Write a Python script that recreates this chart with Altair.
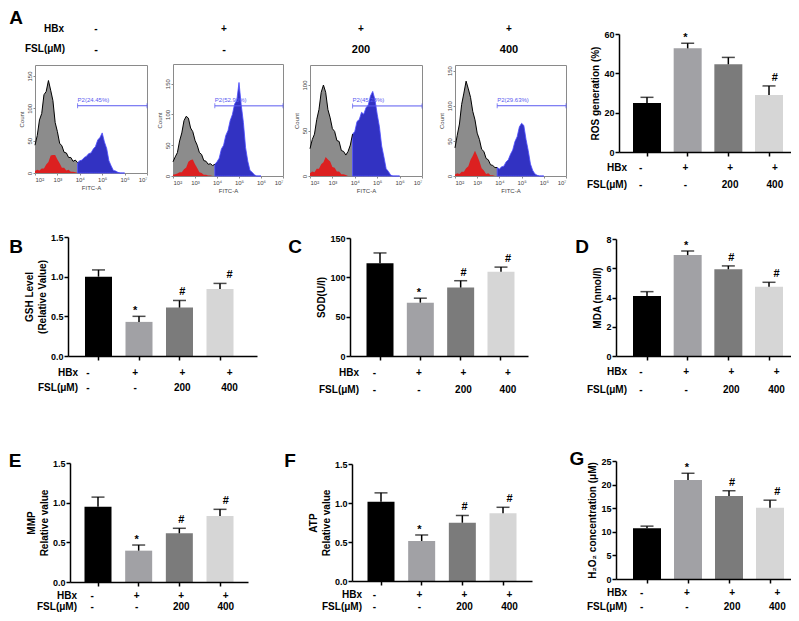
import altair as alt
import pandas as pd

# ---------------- data ----------------
groups = ["Control", "HBx", "HBx+FSL200", "HBx+FSL400"]
hbx_row = ["-", "+", "+", "+"]
fsl_row = ["-", "-", "200", "400"]
bar_colors = ["#000000", "#a1a1a5", "#7b7b7b", "#d6d6d6"]

ros_mean = [24.9, 52.7, 44.6, 29.0]
ros_err = [2.9, 2.6, 3.5, 4.6]
ros_sig = ["", "*", "", "#"]

gsh_mean = [1.00, 0.43, 0.61, 0.845]
gsh_err = [0.085, 0.07, 0.09, 0.07]
sod_mean = [118, 67.8, 87, 107]
sod_err = [13, 5.7, 8.7, 6]
mda_mean = [4.1, 6.9, 5.93, 4.74]
mda_err = [0.3, 0.28, 0.23, 0.3]
mmp_mean = [0.95, 0.395, 0.614, 0.832]
mmp_err = [0.12, 0.071, 0.063, 0.084]
atp_mean = [1.017, 0.513, 0.747, 0.868]
atp_err = [0.113, 0.077, 0.093, 0.077]
h2o2_mean = [10.74, 20.97, 17.6, 15.1]
h2o2_err = [0.46, 1.43, 1.1, 1.6]
sig_marks = ["", "*", "#", "#"]

# flow cytometry histograms (log10 FITC-A bins, counts)
fitc_log = [2.0, 2.1, 2.2, 2.3, 2.4, 2.5, 2.6, 2.7, 2.8, 2.9,
            3.0, 3.1, 3.2, 3.3, 3.4, 3.5, 3.6, 3.7, 3.8, 3.9,
            4.0, 4.1, 4.2, 4.3, 4.4, 4.5, 4.6, 4.7, 4.8, 4.9,
            5.0, 5.1, 5.2, 5.3, 5.4, 5.5, 5.6, 5.7, 5.8, 5.9, 6.0]
hist1_total = [43, 58, 82, 92, 121, 126, 143, 128, 112, 78,
               64, 46, 42, 32, 31, 24, 24, 18, 20, 16,
               19, 20, 24, 26, 30, 31, 37, 41, 51, 55,
               62, 48, 38, 19, 11, 4, 3, 1, 0, 0, 0]
hist1_red = [3, 5, 4, 7, 7, 13, 17, 27, 28, 28,
             21, 15, 8, 8, 4, 5, 2, 2, 1, 0, 0]
hist2_total = [23, 31, 38, 57, 70, 90, 97, 94, 78, 72,
               58, 50, 38, 35, 25, 24, 19, 20, 17, 19,
               23, 29, 44, 50, 66, 74, 90, 100, 117, 123,
               152, 116, 87, 46, 24, 9, 6, 2, 0, 0, 0]
hist2_red = [2, 3, 4, 6, 6, 11, 14, 23, 26, 27,
             19, 13, 6, 5, 2, 2, 1, 1, 0, 0, 0]
hist3_total = [30, 40, 46, 62, 73, 92, 100, 92, 73, 64,
               52, 49, 39, 38, 28, 27, 23, 27, 34, 46,
               49, 60, 62, 70, 68, 75, 78, 88, 93, 84,
               68, 54, 33, 21, 8, 5, 1, 0, 0, 0, 0]
hist3_red = [3, 5, 4, 8, 8, 13, 15, 21, 18, 16,
             10, 9, 5, 5, 2, 2, 1, 0, 0, 0, 0]
hist4_total = [40, 58, 74, 102, 118, 135, 124, 112, 92, 80,
               61, 52, 38, 35, 25, 23, 16, 15, 12, 12,
               10, 13, 14, 20, 23, 31, 37, 49, 56, 70,
               75, 72, 52, 36, 17, 8, 3, 1, 0, 0, 0]
hist4_red = [2, 4, 3, 6, 6, 11, 14, 23, 29, 36,
             29, 21, 11, 8, 3, 4, 1, 1, 0, 0, 0]
hist_totals = [hist1_total, hist2_total, hist3_total, hist4_total]
hist_reds = [hist1_red, hist2_red, hist3_red, hist4_red]
hist_ymax = [167, 182, 122, 158]
gate_lo = [3.9, 3.9, 3.9, 3.9]
gate_hi = [7.0, 7.0, 7.0, 7.0]
gate_level = [104, 114, 77, 100]
gate_labels = ["P2(24.45%)", "P2(52.90%)", "P2(45.28%)", "P2(29.63%)"]
decade_ticks = [2, 3, 4, 5, 6, 7]
count_ticks = [0, 50, 100, 150]

# ---------------- layout helpers ----------------
W, H = 783, 605
M = 8
FONT = "Liberation Sans"
one = pd.DataFrame({"k": [0]})


def C(v):
    return v - M


def label(text, x, y, size=10, align="center", baseline="middle", weight="bold", color="black"):
    return alt.Chart(one).mark_text(text=text, font=FONT, fontSize=size, fontWeight=weight,
                                    align=align, baseline=baseline, color=color).encode(
        x=alt.value(C(x)), y=alt.value(C(y)))


def band(x0, x1, c1, step, bw, n=4):
    wd = x1 - x0
    pi = 1 - bw / step
    po = (wd / step - n + pi) / 2
    space = wd - step * (n - pi)
    al = (c1 - x0 - bw / 2) / space
    return alt.Scale(domain=groups, range=[C(x0), C(x1)], paddingInner=pi,
                     paddingOuter=max(po, 0), align=min(max(al, 0), 1))


def bar_panel(mean, err, sig, frame, ydom, yticks, yfmt, ytitle, rows_y, head_x):
    x0, x1, c1, step, bw, y0, yt = frame
    df = pd.DataFrame({"grp": groups, "val": mean,
                       "top": [m + e for m, e in zip(mean, err)],
                       "col": bar_colors, "sig": sig, "hbx": hbx_row, "fsl": fsl_row})
    xs = band(x0, x1, c1, step, bw)
    ys = alt.Scale(domain=ydom, range=[C(y0), C(yt)], nice=False)
    yaxis = alt.Axis(orient="left", offset=-C(x0), values=yticks, format=yfmt, title=ytitle,
                     grid=False, domainColor="black", domainWidth=1.5, tickColor="black",
                     tickWidth=1.5, tickSize=4, labelFont=FONT, labelFontSize=9,
                     labelFontWeight="bold", labelColor="black", labelPadding=1,
                     titleFont=FONT, titleFontSize=10, titleFontWeight="bold",
                     titleColor="black", titlePadding=3, titleLineHeight=13, zindex=1)
    xaxis = alt.Axis(orient="bottom", offset=C(y0) - H, labels=False, title="", grid=False,
                     domainColor="black", domainWidth=1.5, tickColor="black", tickWidth=1.5,
                     tickSize=4, zindex=1)
    out = []
    out.append(alt.Chart(df).mark_bar().encode(
        x=alt.X("grp:N", scale=xs, axis=xaxis),
        y=alt.Y("val:Q", scale=ys, axis=yaxis),
        color=alt.Color("col:N", scale=None)))
    out.append(alt.Chart(df).mark_rule(color="black", strokeWidth=1.5).encode(
        x=alt.X("grp:N", scale=xs, axis=None),
        y=alt.Y("val:Q", scale=ys, axis=None), y2=alt.Y2("top")))
    out.append(alt.Chart(df).mark_tick(color="black", thickness=1.5, size=13,
                                       orient="horizontal").encode(
        x=alt.X("grp:N", scale=xs, axis=None),
        y=alt.Y("top:Q", scale=ys, axis=None)))
    for mk, dy in (("*", -5), ("#", -8)):
        sub = df[df["sig"] == mk]
        if len(sub):
            out.append(alt.Chart(sub).mark_text(font=FONT, fontSize=11, fontWeight="bold",
                                                baseline="middle", dy=dy).encode(
                x=alt.X("grp:N", scale=xs, axis=None),
                y=alt.Y("top:Q", scale=ys, axis=None), text="sig:N"))
    for fld, ry in (("hbx", rows_y[0]), ("fsl", rows_y[1])):
        out.append(alt.Chart(df).mark_text(font=FONT, fontSize=10, fontWeight="bold",
                                           baseline="middle").encode(
            x=alt.X("grp:N", scale=xs, axis=None), y=alt.value(C(ry)), text=f"{fld}:N"))
    out.append(label("HBx", head_x, rows_y[0], align="right"))
    out.append(label("FSL(μM)", head_x, rows_y[1], align="right"))
    return out


def hist_panel(i, frame):
    x0, x1, yt, yb = frame
    xs = alt.Scale(domain=[2, 7], range=[C(x0), C(x1)], nice=False, zero=False)
    ys = alt.Scale(domain=[0, hist_ymax[i]], range=[C(yb), C(yt)], nice=False)
    df = pd.DataFrame({"x": fitc_log, "n": hist_totals[i]})
    left = df[df["x"] <= gate_lo[i] + 1e-9]
    right = df[df["x"] >= gate_lo[i] - 1e-9]
    red = pd.DataFrame({"x": fitc_log[:len(hist_reds[i])], "n": hist_reds[i]})
    fc = "#8a8a8a"
    common = dict(grid=False, domainColor=fc, domainWidth=1, tickColor=fc, tickSize=2,
                  labelFont=FONT, labelFontSize=6, labelColor="#444", labelPadding=1,
                  titleFont=FONT, titleFontSize=6, titleFontWeight="normal",
                  titleColor="#444", titlePadding=2)
    xaxis = alt.Axis(orient="bottom", offset=C(yb) - H, values=decade_ticks, title="FITC-A",
                     labelExpr="'10' + ['⁰','¹','²','³','⁴','⁵','⁶','⁷'][datum.value]",
                     **common)
    yaxis = alt.Axis(orient="left", offset=-C(x0), values=count_ticks, title="Count",
                     labelAngle=-90, labelAlign="center", labelBaseline="bottom", **common)
    frame_x = alt.Axis(orient="top", offset=-C(yt), labels=False, ticks=False, title="",
                       grid=False, domainColor=fc, domainWidth=1)
    frame_y = alt.Axis(orient="right", offset=C(x1) - W, labels=False, ticks=False, title="",
                       grid=False, domainColor=fc, domainWidth=1)
    out = []
    out.append(alt.Chart(left).mark_area(color="#8c8c8c").encode(
        x=alt.X("x:Q", scale=xs, axis=xaxis), y=alt.Y("n:Q", scale=ys, axis=yaxis)))
    out.append(alt.Chart(right).mark_area(color="#3232c2", stroke="#4b4bff",
                                          strokeWidth=0.8).encode(
        x=alt.X("x:Q", scale=xs, axis=None), y=alt.Y("n:Q", scale=ys, axis=None)))
    out.append(alt.Chart(red).mark_area(color="#e01a1a", opacity=0.95).encode(
        x=alt.X("x:Q", scale=xs, axis=None), y=alt.Y("n:Q", scale=ys, axis=None)))
    out.append(alt.Chart(left).mark_line(color="black", strokeWidth=1).encode(
        x=alt.X("x:Q", scale=xs, axis=frame_x), y=alt.Y("n:Q", scale=ys, axis=frame_y)))
    gate = pd.DataFrame({"lo": [gate_lo[i]], "hi": [gate_hi[i]], "lvl": [gate_level[i]],
                         "lab": [gate_labels[i]]})
    gc = "#5a5af0"
    out.append(alt.Chart(gate).mark_rule(color=gc, strokeWidth=1).encode(
        x=alt.X("lo:Q", scale=xs, axis=None), x2=alt.X2("hi"),
        y=alt.Y("lvl:Q", scale=ys, axis=None)))
    ends = pd.DataFrame({"x": [gate_lo[i], gate_hi[i]], "lvl": [gate_level[i]] * 2})
    out.append(alt.Chart(ends).mark_tick(color=gc, orient="vertical", size=5,
                                         thickness=1).encode(
        x=alt.X("x:Q", scale=xs, axis=None), y=alt.Y("lvl:Q", scale=ys, axis=None)))
    out.append(alt.Chart(gate).mark_text(color=gc, font=FONT, fontSize=6, align="left",
                                         baseline="bottom", dy=-3).encode(
        x=alt.X("lo:Q", scale=xs, axis=None), y=alt.Y("lvl:Q", scale=ys, axis=None),
        text="lab:N"))
    return out


layers = []

# ---- panel A : histograms ----
hist_frames = [(35, 147, 65, 173), (173, 283, 64, 176), (310, 422, 65, 176), (455, 566, 65, 176)]
hdr_x = [96, 224, 361, 509]
for i, fr in enumerate(hist_frames):
    layers += hist_panel(i, fr)
    layers.append(label(hbx_row[i], hdr_x[i], 29, size=10))
    layers.append(label(fsl_row[i], hdr_x[i], 50, size=11))
layers.append(label("HBx", 64, 29, align="right"))
layers.append(label("FSL(μM)", 65, 49, align="right"))
layers.append(label("A", 16, 24, size=19, baseline="alphabetic"))

# ---- panel A : ROS bar chart ----
layers += bar_panel(ros_mean, ros_err, ros_sig, (619, 798, 647, 40.67, 28, 152, 34),
                    [0, 60], [0, 20, 40, 60], "d", "ROS generation (%)", (168, 185), 627)

# ---- B, C, D ----
layers += bar_panel(gsh_mean, gsh_err, sig_marks, (68, 257, 98.5, 40.5, 27, 356, 237),
                    [0, 1.5], [0, 0.5, 1.0, 1.5], ".1f", ["GSH Level", "(Relative Value)"],
                    (373, 388), 78)
layers.append(label("B", 16, 253, size=19, baseline="alphabetic"))
layers += bar_panel(sod_mean, sod_err, sig_marks, (350, 528, 380, 40.33, 27, 356, 238),
                    [0, 150], [0, 50, 100, 150], "d", "SOD(U/l)", (373, 390), 359)
layers.append(label("C", 295, 253, size=19, baseline="alphabetic"))
layers += bar_panel(mda_mean, mda_err, sig_marks, (616, 797, 647, 40.67, 28, 356, 239),
                    [0, 8], [0, 2, 4, 6, 8], "d", "MDA (nmol/l)", (372, 390), 627)
layers.append(label("D", 582, 253, size=19, baseline="alphabetic"))

# ---- E, F, G ----
layers += bar_panel(mmp_mean, mmp_err, sig_marks, (70, 248, 98, 40.67, 27, 582, 463),
                    [0, 1.5], [0, 0.5, 1.0, 1.5], ".1f", ["MMP", "Relative value"],
                    (596, 607), 77)
layers.append(label("E", 15, 467, size=19, baseline="alphabetic"))
layers += bar_panel(atp_mean, atp_err, sig_marks, (352, 532, 381, 40.67, 27, 581, 464),
                    [0, 1.5], [0, 0.5, 1.0, 1.5], ".1f", ["ATP", "Relative value"],
                    (595, 607), 362)
layers.append(label("F", 290, 467, size=19, baseline="alphabetic"))
layers += bar_panel(h2o2_mean, h2o2_err, sig_marks, (616, 797, 647, 41, 28, 579, 461),
                    [0, 25], [0, 5, 10, 15, 20, 25], "d", "H₂O₂ concentration (μM)",
                    (593, 607), 627)
layers.append(label("G", 577, 465, size=19, baseline="alphabetic"))

chart = alt.layer(*layers).resolve_scale(x="independent", y="independent").properties(
    width=W, height=H, padding=0, autosize=alt.AutoSizeParams(type="none")
).configure_view(stroke=None)

chart.save("out.html", embed_options={"renderer": "svg", "actions": False})
